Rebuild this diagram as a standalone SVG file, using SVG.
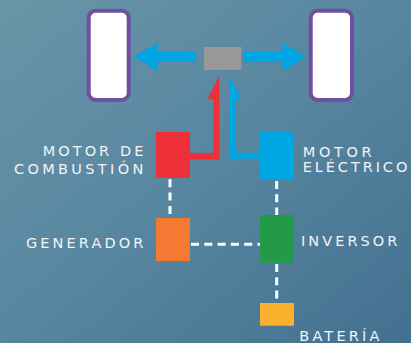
<svg xmlns="http://www.w3.org/2000/svg" width="411" height="343" viewBox="0 0 411 343">
<defs>
<linearGradient id="bg" x1="0" y1="0" x2="1" y2="1">
<stop offset="0" stop-color="#6a95a8"/>
<stop offset="0.5" stop-color="#5786a0"/>
<stop offset="1" stop-color="#44708f"/>
</linearGradient>
<style>
.lbl{font-family:"DejaVu Sans","Open Sans",sans-serif;font-size:14.5px;fill:#f2f4f5;}
.wheel{fill:#ffffff;stroke:#6f4fa0;stroke-width:4;}
.dash{stroke:#ffffff;stroke-width:3;stroke-dasharray:8 5.3;fill:none;}
.blue{fill:#00a5e3;stroke:#00a5e3;stroke-width:1;stroke-linejoin:round;}
.red{fill:#ef3039;stroke:#ef3039;stroke-width:0.5;}
</style>
</defs>
<rect width="411" height="343" fill="url(#bg)"/>
<g id="connectors">
<polygon class="blue" points="195,52.5 157,52.5 157,43.5 134.5,56.8 157,70 157,61.5 195,61.5"/>
<polygon class="blue" points="244,52.5 283,52.5 283,43.5 305,56.8 283,70 283,61.5 244,61.5"/>
<polygon class="red" points="190,153.3 213.5,153.3 213.5,99 208,99 219,77 219,159.3 190,159.3"/>
<polygon fill="#00a5e3" points="230,77 241,99 235.7,99 235.7,152.7 260,152.7 260,158.7 230,158.7"/>
<line class="dash" x1="170" y1="179.3" x2="170" y2="218"/>
<line class="dash" x1="191" y1="244.3" x2="260" y2="244.3"/>
<line class="dash" x1="276.7" y1="181" x2="276.7" y2="215"/>
<line class="dash" x1="276.7" y1="264" x2="276.7" y2="303"/>
</g>
<g id="wheel-left"><rect class="wheel" x="88.7" y="10.7" width="40" height="89.3" rx="7"/></g>
<g id="wheel-right"><rect class="wheel" x="310.7" y="10.7" width="41.3" height="89.3" rx="7"/></g>
<g id="transmission"><rect x="204" y="47" width="37.3" height="23" fill="#999999"/></g>
<g id="motor-combustion">
<rect x="156" y="132" width="34" height="46" fill="#ef3039"/>
<text class="lbl" x="143.3" y="156" text-anchor="end" textLength="100.6" lengthAdjust="spacing">MOTOR DE</text>
<text class="lbl" x="143.3" y="174" text-anchor="end" textLength="129.3" lengthAdjust="spacing">COMBUSTIÓN</text>
</g>
<g id="motor-electrico">
<rect x="260" y="132" width="34" height="48" fill="#00a5e3"/>
<text class="lbl" x="302.7" y="156.8" textLength="69" lengthAdjust="spacing">MOTOR</text>
<text class="lbl" x="302.7" y="172" textLength="104.6" lengthAdjust="spacing">ELÉCTRICO</text>
</g>
<g id="generador">
<rect x="156" y="218" width="34" height="43" fill="#f47a33"/>
<text class="lbl" x="26" y="248.3" textLength="117.3" lengthAdjust="spacing">GENERADOR</text>
</g>
<g id="inversor">
<rect x="260" y="215" width="34" height="47.7" fill="#229a48"/>
<text class="lbl" x="301" y="246" textLength="96.3" lengthAdjust="spacing">INVERSOR</text>
</g>
<g id="bateria">
<rect x="260" y="303" width="34" height="22.7" fill="#fbb12c"/>
<text class="lbl" x="299.3" y="340.7" textLength="80" lengthAdjust="spacing">BATERÍA</text>
</g>
</svg>
